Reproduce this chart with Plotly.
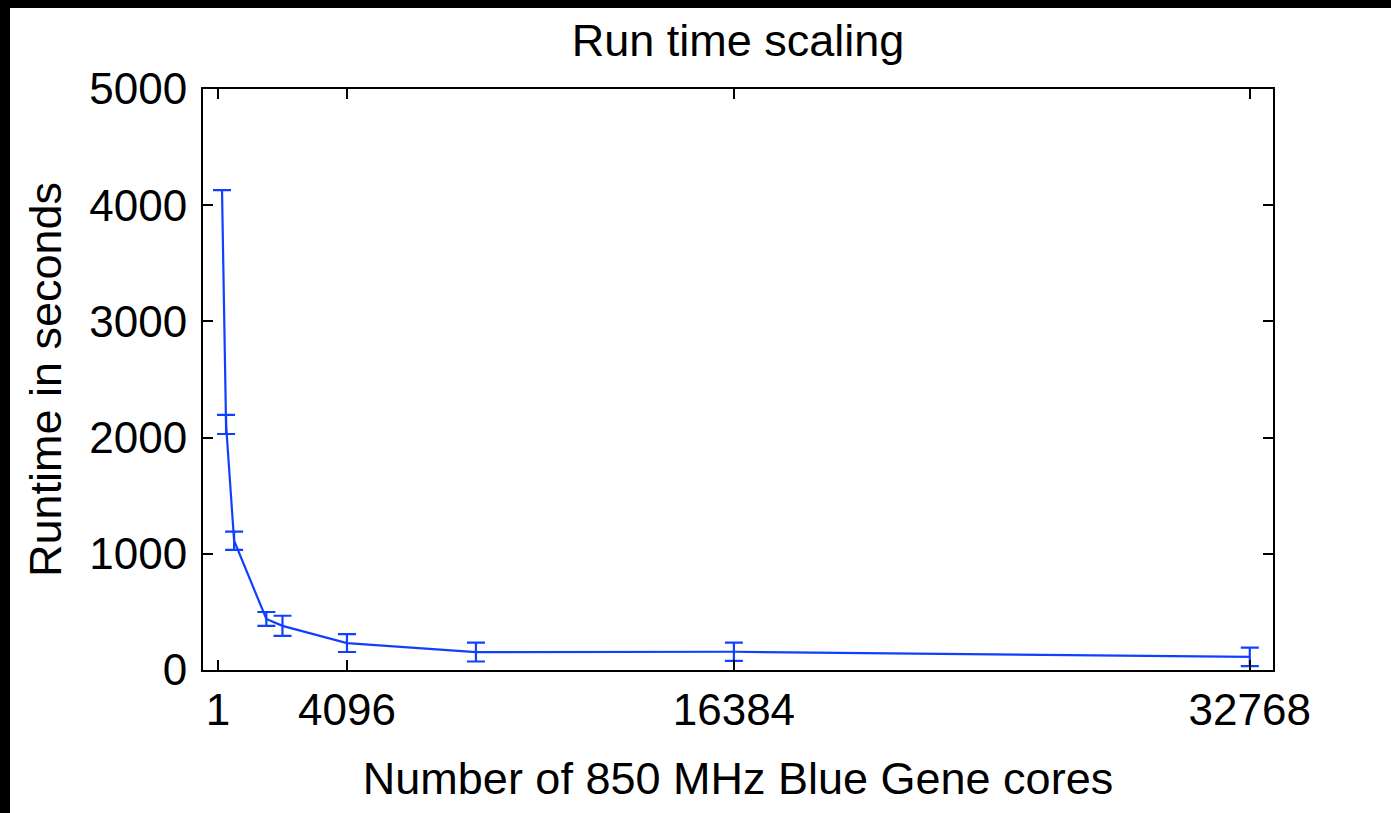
import plotly.graph_objects as go

# Data
cores = [128, 256, 512, 1536, 2048, 4096, 8192, 16384, 32768]
runtime = [4130, 2113, 1112, 439, 380, 232, 154, 157, 113]
runtime_err = [0, 82, 79, 60, 87, 77, 81, 78, 79]

x_ticks = [1, 4096, 16384, 32768]
y_ticks = [0, 1000, 2000, 3000, 4000, 5000]

W, H = 1391, 813
ML, MR, MT, MB = 203, 118, 89, 143
PW, PH = W - ML - MR, H - MT - MB

FONT = "Liberation Sans, Arial, Helvetica, sans-serif"
BLUE = "#1040ff"

fig = go.Figure()
fig.add_trace(go.Scatter(
    x=cores, y=runtime,
    mode="lines",
    line=dict(color=BLUE, width=2.2),
    error_y=dict(type="data", array=runtime_err, visible=True,
                 color=BLUE, thickness=2.2, width=9),
    showlegend=False,
))


def px_to_paper_x(px):
    return (px - ML) / PW


def px_to_paper_y(py):
    return (H - MB - py) / PH


shapes = [
    # black frame strips of the original screenshot (left and top)
    dict(type="rect", xref="paper", yref="paper", layer="above",
         x0=px_to_paper_x(0), x1=px_to_paper_x(10),
         y0=px_to_paper_y(H), y1=px_to_paper_y(0),
         fillcolor="black", line=dict(width=0)),
    dict(type="rect", xref="paper", yref="paper", layer="above",
         x0=px_to_paper_x(0), x1=px_to_paper_x(W),
         y0=px_to_paper_y(8), y1=px_to_paper_y(0),
         fillcolor="black", line=dict(width=0)),
]

axis_common = dict(
    showline=True, linecolor="black", linewidth=2, mirror="ticks",
    ticks="inside", ticklen=10, tickwidth=2, tickcolor="black",
    showgrid=False, zeroline=False,
    tickfont=dict(family=FONT, size=44, color="black"),
)

fig.update_layout(
    width=W, height=H,
    margin=dict(l=ML, r=MR, t=MT, b=MB, autoexpand=False),
    paper_bgcolor="white", plot_bgcolor="white",
    font=dict(family=FONT, size=44, color="black"),
    title=dict(text="Run time scaling", x=(ML + PW / 2) / W, xanchor="center",
               y=1 - 40 / H, yanchor="middle",
               font=dict(family=FONT, size=45, color="black")),
    xaxis=dict(range=[-476, 33505], tickmode="array", tickvals=x_ticks,
               ticktext=[str(v) for v in x_ticks],
               title=dict(text="Number of 850 MHz Blue Gene cores", standoff=30,
                          font=dict(family=FONT, size=45)),
               **axis_common),
    yaxis=dict(range=[0, 5000], tickmode="array", tickvals=y_ticks,
               ticktext=[str(v) for v in y_ticks],
               ticklabelstandoff=5,
               title=dict(text="Runtime in seconds", standoff=14,
                          font=dict(family=FONT, size=45)),
               **axis_common),
    shapes=shapes,
)

fig.write_html("out.html")
